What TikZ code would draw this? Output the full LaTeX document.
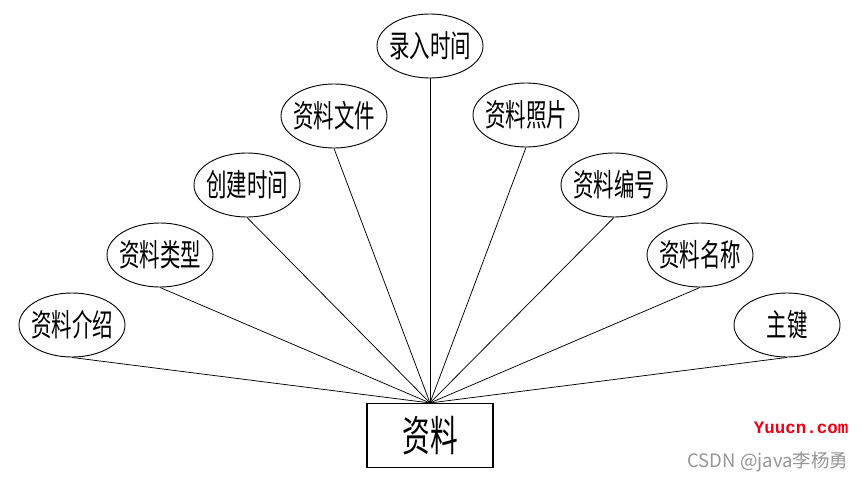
\documentclass[tikz,border=0pt]{standalone}
\usepackage{fontspec}
\usetikzlibrary{shapes.geometric}
\newfontfamily\cjk[FakeStretch=0.66]{Noto Sans CJK SC}
\newfontfamily\cjkplain{Noto Sans CJK SC}
\newfontfamily\wmfont{Liberation Mono}
\definecolor{wmred}{RGB}{240,0,20}
\definecolor{wmgray}{RGB}{150,150,150}
\begin{document}
\begin{tikzpicture}[x=1pt,y=-1pt,
  attr/.style={draw, ellipse, minimum width=106pt, minimum height=64pt, inner sep=0pt, line width=0.9pt, font=\cjk\fontsize{31}{31}\selectfont},
  ent/.style={draw, rectangle, minimum width=126pt, minimum height=64pt, inner sep=0pt, line width=1.1pt, font=\cjk\fontsize{42}{42}\selectfont},
  link/.style={line width=0.75pt}]
\useasboundingbox[fill=white] (0,0) rectangle (862,482);

\node[ent] (ent) at (430,435.5) {\makebox[0pt]{资料}};
\coordinate (hub) at (ent.north);

\node[attr] (a1) at (72,325) {\makebox[0pt]{资料介绍}};
\node[attr] (a2) at (160,255) {\makebox[0pt]{资料类型}};
\node[attr] (a3) at (247,185) {\makebox[0pt]{创建时间}};
\node[attr] (a4) at (334,116) {\makebox[0pt]{资料文件}};
\node[attr] (a5) at (430,46) {\makebox[0pt]{录入时间}};
\node[attr] (a6) at (526,115) {\makebox[0pt]{资料照片}};
\node[attr] (a7) at (614,185) {\makebox[0pt]{资料编号}};
\node[attr] (a8) at (700,255) {\makebox[0pt]{资料名称}};
\node[attr] (a9) at (787,325) {\makebox[0pt]{主键}};

\foreach \n in {a1,a2,a3,a4,a5,a6,a7,a8,a9}
  \draw[link] (\n.south) -- (hub);

\node[font=\wmfont\bfseries\fontsize{17.5}{17.5}\selectfont, text=wmred, inner sep=0pt] (wm1) at (801,428) {Yuucn.com};
\node[font=\cjkplain\fontsize{18.5}{18.5}\selectfont, text=wmgray, inner sep=0pt] (wm2) at (768,462) {CSDN @java李杨勇};
\end{tikzpicture}
\end{document}
